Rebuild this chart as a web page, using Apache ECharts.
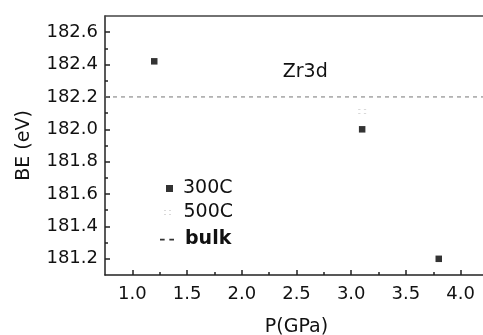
<!DOCTYPE html>
<html><head><meta charset="utf-8">
<script src="https://cdn.jsdelivr.net/npm/echarts@6/dist/echarts.min.js"></script>
<style>html,body{margin:0;padding:0;background:#fff}#c{width:483px;height:335px}</style>
</head><body><div id="c"></div>
<script>
// Data
const seriesNames = ['300C', '500C', 'bulk'];
const p300 = [1.2, 3.1, 3.8];
const be300 = [182.42, 182.0, 181.2];
const p500 = [3.1];
const be500 = [182.11];
const bulkBE = 182.2;
const xRange = [0.75, 4.25];
const yRange = [181.1, 182.7];
const xMajorTicks = [1.0, 1.5, 2.0, 2.5, 3.0, 3.5, 4.0];
const xMinorTicks = [1.25, 1.75, 2.25, 2.75, 3.25, 3.75];
const yMajorTicks = [181.2, 181.4, 181.6, 181.8, 182.0, 182.2, 182.4, 182.6];
const yMinorTicks = [181.3, 181.5, 181.7, 181.9, 182.1, 182.3, 182.5];
const annotation = 'Zr3d';
const annotationAt = [2.58, 182.355];

const FONT = 'DejaVu Sans';
const AX = '#222';
const DOTS = 'path://M0,0h2v1h-2z M5,0h2v1h-2z M0,4h2v1h-2z M5,4h2v1h-2z';
const DASHES = 'path://M0,0h4v1.5h-4z M8,0h4v1.5h-4z';
const chart = echarts.init(document.getElementById('c'), null, {renderer: 'canvas'});
const zip = (a, b) => a.map((v, i) => [v, b[i]]);
const baseX = {type: 'value', min: xRange[0], max: xRange[1], splitLine: {show: false}};
const baseY = {type: 'value', min: yRange[0], max: yRange[1], splitLine: {show: false}};
const legendText = {fontFamily: FONT, fontSize: 19, color: '#111'};
chart.setOption({
  animation: false,
  grid: {left: 105, top: 16, right: -5, bottom: 60, containLabel: false, outerBoundsMode: 'none'},
  xAxis: [
    Object.assign({}, baseX, {
      position: 'bottom', name: 'P(GPa)', nameLocation: 'middle', nameGap: 43,
      nameTextStyle: {fontFamily: FONT, fontSize: 19, color: '#111'},
      axisLine: {show: true, onZero: false, lineStyle: {color: AX, width: 1.5}},
      axisTick: {show: true, inside: true, length: 5, customValues: xMajorTicks, lineStyle: {color: AX, width: 1.5}},
      axisLabel: {show: true, customValues: xMajorTicks, margin: 10, fontFamily: FONT, fontSize: 18, color: '#111',
        formatter: v => v.toFixed(1)}
    }),
    Object.assign({}, baseX, {
      position: 'bottom',
      axisLine: {show: false, onZero: false},
      axisTick: {show: true, inside: true, length: 3, customValues: xMinorTicks, lineStyle: {color: AX, width: 1.5}},
      axisLabel: {show: false}
    }),
    Object.assign({}, baseX, {
      position: 'top',
      axisLine: {show: true, onZero: false, lineStyle: {color: '#444', width: 1.5}},
      axisTick: {show: false}, axisLabel: {show: false}
    })
  ],
  yAxis: [
    Object.assign({}, baseY, {
      position: 'left', name: 'BE (eV)', nameLocation: 'middle', nameGap: 71, nameRotate: 90,
      nameTextStyle: {fontFamily: FONT, fontSize: 19, color: '#111'},
      axisLine: {show: true, onZero: false, lineStyle: {color: AX, width: 1.5}},
      axisTick: {show: true, inside: true, length: 5, customValues: yMajorTicks, lineStyle: {color: AX, width: 1.5}},
      axisLabel: {show: true, customValues: yMajorTicks, margin: 7, fontFamily: FONT, fontSize: 18, color: '#111',
        formatter: v => v.toFixed(1)}
    }),
    Object.assign({}, baseY, {
      position: 'left',
      axisLine: {show: false, onZero: false},
      axisTick: {show: true, inside: true, length: 3, customValues: yMinorTicks, lineStyle: {color: AX, width: 1.5}},
      axisLabel: {show: false}
    })
  ],
  legend: [
    {left: 166, top: 179, padding: 0, itemWidth: 7, itemHeight: 7, selectedMode: false,
      textStyle: Object.assign({}, legendText, {padding: [0, 0, 0, 5]}),
      data: [{name: seriesNames[0], icon: 'rect', itemStyle: {color: '#000'}}]},
    {left: 164, top: 203, padding: 0, itemWidth: 8, itemHeight: 5, selectedMode: false,
      textStyle: Object.assign({}, legendText, {padding: [0, 0, 0, 7]}),
      data: [{name: seriesNames[1], icon: DOTS, itemStyle: {color: '#cfcfcf'}}]},
    {left: 160, top: 230, padding: 0, itemWidth: 14, itemHeight: 2, selectedMode: false,
      textStyle: Object.assign({}, legendText, {padding: [0, 0, 0, 6]}),
      data: [{name: seriesNames[2], icon: DASHES, itemStyle: {color: '#333'}, textStyle: {fontWeight: 'bold'}}]}
  ],
  series: [
    {name: seriesNames[0], type: 'scatter', xAxisIndex: 0, yAxisIndex: 0, symbol: 'rect', symbolSize: 6.5,
      itemStyle: {color: '#000'}, data: zip(p300, be300),
      markPoint: {silent: true, symbol: 'circle', symbolSize: 1, itemStyle: {color: 'rgba(0,0,0,0)'},
        data: [{coord: annotationAt, value: annotation}],
        label: {show: true, position: 'inside', formatter: annotation, fontFamily: FONT, fontSize: 19, color: '#111'}}},
    {name: seriesNames[1], type: 'scatter', xAxisIndex: 0, yAxisIndex: 0, symbol: DOTS, symbolSize: [8, 5],
      itemStyle: {color: '#cfcfcf'}, data: zip(p500, be500)},
    {name: seriesNames[2], type: 'line', xAxisIndex: 0, yAxisIndex: 0, symbol: 'none',
      itemStyle: {color: '#777'}, lineStyle: {color: '#777', width: 1, type: [4, 4]},
      data: [[xRange[0], bulkBE], [xRange[1], bulkBE]]}
  ]
});
</script></body></html>
